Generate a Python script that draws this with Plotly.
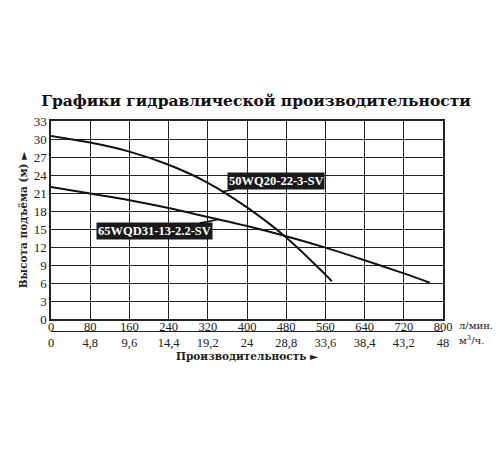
import plotly.graph_objects as go

# данные кривых (л/мин -> м)
q_50wq = [0, 80, 160, 240, 320, 400, 480, 560, 573]
h_50wq = [30.5, 29.4, 27.9, 25.7, 22.7, 18.6, 13.6, 7.4, 6.3]
q_65wqd = [0, 80, 160, 240, 320, 400, 480, 560, 640, 720, 773]
h_65wqd = [22.0, 20.9, 19.8, 18.5, 17.0, 15.5, 13.8, 11.9, 9.8, 7.6, 6.05]

lpm_ticks = [0, 80, 160, 240, 320, 400, 480, 560, 640, 720, 800]
m3h_ticks = [0, 4.8, 9.6, 14.4, 19.2, 24, 28.8, 33.6, 38.4, 43.2, 48]
m3h_text = ["0", "4,8", "9,6", "14,4", "19,2", "24", "28,8", "33,6", "38,4", "43,2", "48"]
h_ticks = [0, 3, 6, 9, 12, 15, 18, 21, 24, 27, 30, 33]

FONT = "Liberation Serif"
CYR = "DejaVu Serif"  # кириллица с засечками

fig = go.Figure()

fig.add_trace(go.Scatter(x=q_50wq, y=h_50wq, mode="lines",
                         line=dict(color="#111", width=2, shape="spline", smoothing=1.0),
                         showlegend=False, hoverinfo="skip"))
fig.add_trace(go.Scatter(x=q_65wqd, y=h_65wqd, mode="lines",
                         line=dict(color="#111", width=2, shape="spline", smoothing=1.0),
                         showlegend=False, hoverinfo="skip"))
# пустой след для второй оси (м³/ч)
fig.add_trace(go.Scatter(x=[0, 48], y=[None, None], xaxis="x2", mode="lines",
                         showlegend=False, hoverinfo="skip"))

fig.update_layout(
    width=500, height=450,
    template="none",
    paper_bgcolor="white", plot_bgcolor="white",
    margin=dict(l=43, r=65, t=113, b=113),
    font=dict(family=FONT, color="#222", size=12),
    title=dict(text="Графики гидравлической производительности",
               x=0.496, xanchor="center", y=1 - 93 / 450, yanchor="middle",
               font=dict(family=CYR, size=15.5, color="#111", weight="bold")),
    xaxis=dict(range=[0, 800], tickvals=lpm_ticks, showgrid=True, gridcolor="#222",
               gridwidth=1, showline=True, mirror=True, linecolor="#222", linewidth=1.5,
               ticks="", zeroline=False, tickfont=dict(size=12.5), automargin=False,
               ticklabelstandoff=-5),
    xaxis2=dict(range=[0, 48], overlaying="x", anchor="free", position=0.0625,
                side="bottom", tickvals=m3h_ticks, ticktext=m3h_text,
                showgrid=False, showline=True, linecolor="#222", linewidth=1,
                ticks="", zeroline=False, tickfont=dict(size=12.5), automargin=False,
                title=dict(text="Производительность ►", standoff=0,
                           font=dict(family=CYR, size=10.5, weight="bold"))),
    yaxis=dict(range=[0, 33], tickvals=h_ticks, domain=[0.116, 1], showgrid=True,
               gridcolor="#222", gridwidth=1, showline=True, mirror=True,
               linecolor="#222", linewidth=1.5, ticks="", zeroline=False,
               tickfont=dict(size=13), automargin=False,
               title=dict(text="Высота подъёма (м) ►", standoff=4,
                          font=dict(family=CYR, size=10.5, weight="bold"))),
)

fig.add_annotation(x=349, y=21.2, ax=54, ay=-11, text="50WQ20-22-3-SV",
                   showarrow=True, arrowhead=0, arrowwidth=1.5, arrowcolor="black",
                   bgcolor="#1a1a1a", borderpad=1,
                   font=dict(family=FONT, size=12.5, color="white", weight="bold"))
fig.add_annotation(x=342, y=16.6, ax=-64, ay=12, text="65WQD31-13-2.2-SV",
                   showarrow=True, arrowhead=0, arrowwidth=1.5, arrowcolor="black",
                   bgcolor="#1a1a1a", borderpad=1,
                   font=dict(family=FONT, size=12.5, color="white", weight="bold"))

fig.add_annotation(xref="paper", yref="paper", x=1.036, y=0.089, xanchor="left",
                   yanchor="middle", text="л/мин.", showarrow=False,
                   font=dict(family=CYR, size=10))
fig.add_annotation(xref="paper", yref="paper", x=1.036, y=0.022, xanchor="left",
                   yanchor="middle", text="м<sup>3</sup>/ч.", showarrow=False,
                   font=dict(family=CYR, size=10))

fig.write_html("out.html")
